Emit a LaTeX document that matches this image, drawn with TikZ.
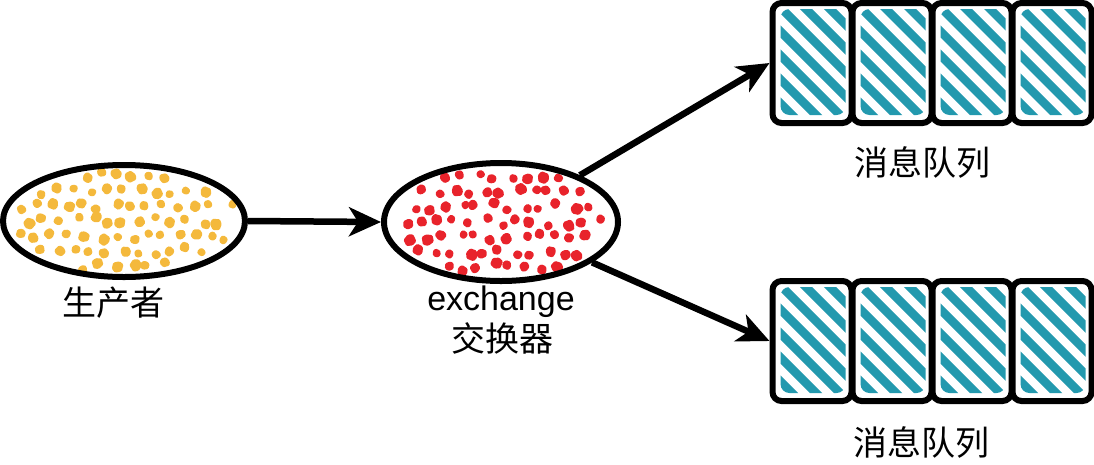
\documentclass[tikz,border=0pt]{standalone}
\usepackage{fontspec}
\setmainfont{Liberation Sans}
\newfontfamily\cjk{Noto Sans CJK SC}
\usetikzlibrary{shapes.geometric,arrows.meta,calc}
\definecolor{dotY}{HTML}{F4B93C}
\definecolor{dotR}{HTML}{E8232B}
\definecolor{stripe}{HTML}{2399AE}
\tikzset{
  blob/.style={draw=none, ellipse, inner sep=0pt},
  outline/.style={draw=black, line width=6pt},
  qbox/.style={rectangle, rounded corners=9pt, draw=black, line width=6pt,
    minimum width=79pt, minimum height=120pt, inner sep=0pt,
    path picture={
      \clip ($(path picture bounding box.south west)+(8,-8)$) rectangle ($(path picture bounding box.north east)+(-6,6)$);
      \foreach \k in {-8,...,8}{
        \draw[stripe, line width=8.5pt, line cap=round]
          ($(path picture bounding box.center)+(\k*24-110,-110)$) -- ++(220,220);
      }
    }},
  arr/.style={line width=6.5pt, -{Stealth[length=32pt, width=29pt, inset=9pt]}},
  lbl/.style={font=\cjk\fontsize{34}{40}\selectfont, inner sep=0pt},
  lbllat/.style={font=\fontsize{34}{40}\selectfont, inner sep=0pt}
}
\newcommand{\dotfield}[5]{% cx cy rx ry color
  \foreach \gx in {-12,...,12}{
    \foreach \gy in {-4,...,4}{
      \pgfmathsetmacro\px{(\gx*16+mod(\gy+10,2)*8)/#3}
      \pgfmathsetmacro\py{\gy*15/#4}
      \pgfmathtruncatemacro\inside{(\px*\px+\py*\py)<0.82 ? 1 : 0}
      \ifnum\inside=1
        \pgfmathsetmacro\ddx{\gx*16+mod(\gy+10,2)*8+9*(rnd-0.5)}
        \pgfmathsetmacro\ddy{\gy*15+8*(rnd-0.5)}
        \pgfmathsetmacro\s{4.6+2.2*rnd}
        \pgfmathsetmacro\rot{360*rnd}
        \pgfmathsetmacro\ea{0.6+0.5*rnd}
        \fill[#5, rounded corners=1.2pt, shift={(#1+\ddx,#2+\ddy)}, rotate=\rot]
          (0,-\s) -- (0.9*\s,-0.3*\s) -- (0.7*\s,0.7*\ea*\s) -- (-0.1*\s,\s) -- (-0.9*\s,0.4*\s) -- (-0.7*\s,-0.6*\s) -- cycle;
      \fi
    }}}
\begin{document}
\begin{tikzpicture}[x=1pt,y=-1pt]
\useasboundingbox (0,0) rectangle (1094,464);
\pgfmathsetseed{11}
% dots
\dotfield{124}{221}{122}{57}{dotY}
\dotfield{501}{222}{118}{60}{dotR}
% ellipses
\node[blob, outline, minimum width=242pt, minimum height=112pt] (prod) at (124,221) {};
\node[blob, outline, minimum width=234pt, minimum height=118pt] (exch) at (501,222) {};
% queues
\node[qbox] (q1a) at (812,63) {};
\node[qbox] (q1b) at (892,63) {};
\node[qbox] (q1c) at (972,63) {};
\node[qbox] (q1d) at (1052,63) {};
\node[qbox] (q2a) at (812,341) {};
\node[qbox] (q2b) at (892,341) {};
\node[qbox] (q2c) at (972,341) {};
\node[qbox] (q2d) at (1052,341) {};
% labels
\node[lbl] (lprod) at (113,303) {生产者};
\node[lbllat] (lex) at (501,302) {exchange};
\node[lbl] (lex2) at (502,338) {交换器};
\node[lbl] (lq1) at (922,162) {消息队列};
\node[lbl] (lq2) at (921,442) {消息队列};
% arrows
\draw[arr] (prod.east) -- (exch.west);
\draw[arr] (exch) -- (q1a.west);
\draw[arr] (exch) -- (q2a.west);
\end{tikzpicture}
\end{document}
